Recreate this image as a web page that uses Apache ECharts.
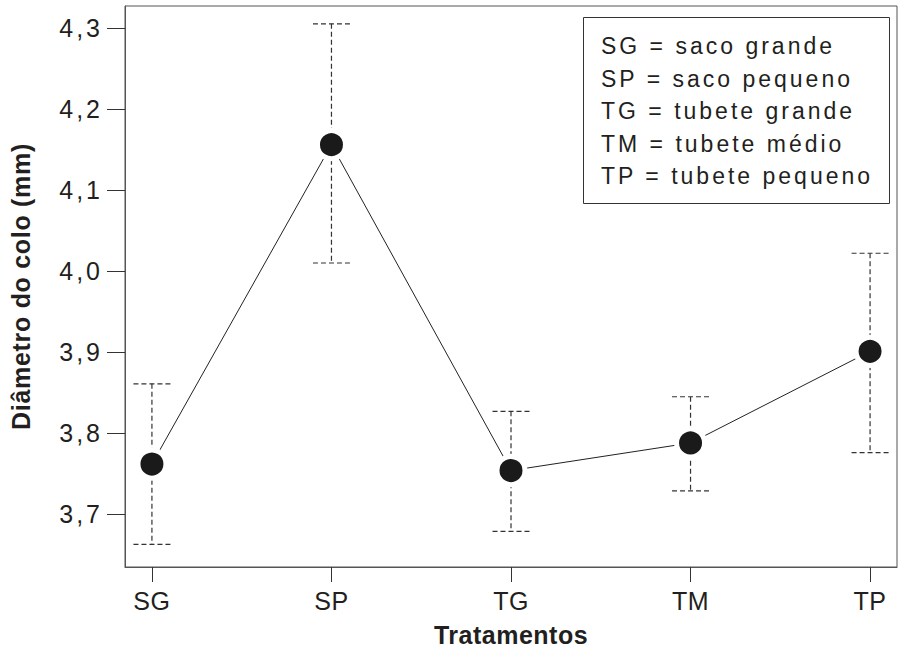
<!DOCTYPE html>
<html>
<head>
<meta charset="utf-8">
<script src="https://cdn.jsdelivr.net/npm/echarts@6/dist/echarts.min.js"></script>
<style>
html,body{margin:0;padding:0;background:#fff;}
#chart{width:898px;height:652px;}
</style>
</head>
<body>
<div id="chart"></div>
<script>
const categories = ['SG', 'SP', 'TG', 'TM', 'TP'];
const means = [3.762, 4.156, 3.754, 3.788, 3.901];
const upper = [3.861, 4.305, 3.827, 3.845, 4.022];
const lower = [3.663, 4.010, 3.679, 3.729, 3.776];
const yTicks = [3.7, 3.8, 3.9, 4.0, 4.1, 4.2, 4.3];
const xTicks = [1, 2, 3, 4, 5];
const legendLines = [
  'SG = saco grande',
  'SP = saco pequeno',
  'TG = tubete grande',
  'TM = tubete médio',
  'TP = tubete pequeno'
];
const yTitle = 'Diâmetro do colo (mm)';
const xTitle = 'Tratamentos';

const FONT = '"Liberation Sans", Arial, sans-serif';
const TXT = '#231f20';

const lineData = categories.map((c, i) => [xTicks[i], means[i]]);
const errData = categories.map((c, i) => [xTicks[i], lower[i], upper[i]]);

const chart = echarts.init(document.getElementById('chart'), null, {renderer: 'svg'});

const legendGraphics = [{
  type: 'rect',
  shape: {x: 583.5, y: 17.5, width: 306, height: 186},
  style: {fill: '#fff', stroke: '#333', lineWidth: 1},
  z: 10
}];
legendLines.forEach((t, i) => {
  legendGraphics.push({
    type: 'text',
    x: 601,
    y: 46 + i * 32.5,
    style: {text: t, font: '23px ' + FONT, fill: TXT, textVerticalAlign: 'middle', textAlign: 'left'},
    z: 11
  });
});

chart.setOption({
  animation: false,
  backgroundColor: '#fff',
  grid: {left: 125, top: 6, right: 1, bottom: 79, show: true, borderColor: '#555', borderWidth: 1, containLabel: false},
  xAxis: {
    type: 'value',
    min: 0.85,
    max: 5.15,
    axisLine: {show: true, lineStyle: {color: '#555', width: 1}},
    axisTick: {show: true, customValues: xTicks, length: 15, lineStyle: {color: '#333', width: 1}},
    axisLabel: {customValues: xTicks, margin: 21, fontSize: 25, fontFamily: FONT, color: TXT,
      formatter: v => categories[Math.round(v) - 1] || ''},
    splitLine: {show: false},
    name: xTitle,
    nameLocation: 'middle',
    nameGap: 55,
    nameTextStyle: {fontSize: 25, fontWeight: 'bold', fontFamily: FONT, color: TXT}
  },
  yAxis: {
    type: 'value',
    min: 3.635,
    max: 4.327,
    axisLine: {show: true, lineStyle: {color: '#555', width: 1}},
    axisTick: {show: true, customValues: yTicks, length: 18, lineStyle: {color: '#333', width: 1}},
    axisLabel: {customValues: yTicks, margin: 22, fontSize: 25, fontFamily: FONT, color: TXT,
      formatter: v => v.toFixed(1).replace('.', ',')},
    splitLine: {show: false},
    name: yTitle,
    nameLocation: 'middle',
    nameGap: 92,
    nameRotate: 90,
    nameTextStyle: {fontSize: 25, fontWeight: 'bold', fontFamily: FONT, color: TXT}
  },
  series: [
    {
      type: 'custom',
      data: errData,
      z: 1,
      silent: true,
      renderItem: function (params, api) {
        const x = api.value(0);
        const pLo = api.coord([x, api.value(1)]);
        const pHi = api.coord([x, api.value(2)]);
        const hw = 18.5;
        const st = {stroke: '#333', lineWidth: 1.2, lineDash: [5, 3], fill: null};
        return {
          type: 'group',
          children: [
            {type: 'line', shape: {x1: pHi[0], y1: pHi[1], x2: pLo[0], y2: pLo[1]}, style: st},
            {type: 'line', shape: {x1: pHi[0] - hw, y1: pHi[1], x2: pHi[0] + hw, y2: pHi[1]}, style: st},
            {type: 'line', shape: {x1: pLo[0] - hw, y1: pLo[1], x2: pLo[0] + hw, y2: pLo[1]}, style: st}
          ]
        };
      }
    },
    {
      type: 'line',
      data: lineData,
      z: 3,
      symbol: 'circle',
      symbolSize: 28,
      lineStyle: {color: '#222', width: 1},
      itemStyle: {color: '#1a1a1a', borderColor: '#fff', borderWidth: 5},
      emphasis: {disabled: true}
    }
  ],
  graphic: legendGraphics
});

function applySpacing() {
  document.querySelectorAll('#chart svg text').forEach(t => {
    const s = t.textContent;
    let ls = 0;
    if (/^\d,\d$/.test(s)) ls = 3;
    else if (categories.indexOf(s) >= 0) ls = 0.5;
    else if (s === xTitle) ls = 0.5;
    else if (s === yTitle) ls = 0.7;
    else if (legendLines.indexOf(s) >= 0) ls = 3;
    if (ls) {
      t.setAttribute('letter-spacing', ls + 'px');
      t.style.letterSpacing = ls + 'px';
    }
  });
}
applySpacing();
chart.on('finished', applySpacing);
</script>
</body>
</html>
